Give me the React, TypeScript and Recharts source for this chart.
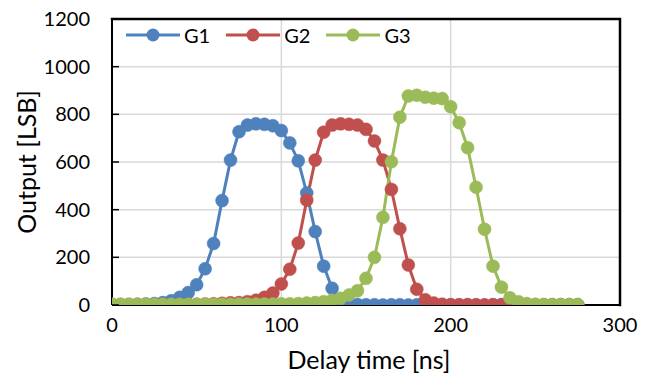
import React from "react";
import {
  LineChart,
  Line,
  XAxis,
  YAxis,
  CartesianGrid,
  Legend,
} from "recharts";

const FONT = "Lato, 'Open Sans', sans-serif";

// Delay time [ns]
const T = [
  0, 5, 10, 15, 20, 25, 30, 35, 40, 45, 50, 55, 60, 65, 70, 75, 80, 85, 90, 95,
  100, 105, 110, 115, 120, 125, 130, 135, 140, 145, 150, 155, 160, 165, 170,
  175, 180, 185, 190, 195, 200, 205, 210, 215, 220, 225, 230, 235, 240, 245,
  250, 255, 260, 265, 270, 275,
];

const G1 = [
  2, 2, 2, 3, 4, 6, 10, 18, 32, 52, 85, 152, 258, 438, 608, 727, 755, 760, 758,
  752, 732, 680, 605, 470, 308, 163, 70, 20, 5, 2, 1, 1, 0, 1, 1, 0, 1, 1, 0, 1,
  1, 0, 1, 1, 0, 1, 1, 0, 1, 1, 0, 1, 1, 0, 1, 1,
];

const G2 = [
  1, 1, 1, 1, 1, 2, 2, 2, 3, 3, 3, 4, 5, 7, 9, 10, 14, 20, 32, 50, 88, 150, 260,
  440, 608, 725, 755, 760, 758, 755, 737, 688, 608, 485, 320, 168, 66, 22, 8, 3,
  1, 1, 1, 0, 0, 1, 1, 0, 0, 1, 1, 0, 0, 1, 1, 0,
];

const G3 = [
  3, 3, 3, 3, 3, 3, 3, 3, 3, 3, 3, 3, 3, 3, 3, 4, 4, 4, 4, 4, 5, 5, 6, 8, 10, 14,
  20, 28, 42, 60, 112, 200, 368, 601, 788, 877, 880, 872, 868, 866, 832, 765,
  660, 494, 318, 163, 75, 30, 14, 6, 3, 2, 2, 2, 2, 2,
];

const X_TICKS = [0, 100, 200, 300];
const Y_TICKS = [0, 200, 400, 600, 800, 1000, 1200];
const X_MAX = 300;
const Y_MAX = 1200;

const SERIES = [
  { key: "g1", name: "G1", color: "#4F81BD" },
  { key: "g2", name: "G2", color: "#C0504D" },
  { key: "g3", name: "G3", color: "#9BBB59" },
];

const data = T.map((t, i) => ({ t, g1: G1[i], g2: G2[i], g3: G3[i] }));

// layout
const W = 653;
const H = 381;
const MARGIN = { top: 19, right: 33, left: 0, bottom: 0 };
const Y_AXIS_W = 112;
const X_AXIS_H = 76;
const PLOT_L = MARGIN.left + Y_AXIS_W;
const PLOT_T = MARGIN.top;
const PLOT_R = W - MARGIN.right;
const PLOT_B = H - MARGIN.bottom - X_AXIS_H;

const YTick = (props: any) => {
  const { x, y, payload } = props;
  return (
    <g>
      <text
        x={x}
        y={y}
        dy="0.355em"
        textAnchor="end"
        fill="#000"
        fontSize={20}
        fontFamily={FONT}
      >
        {payload.value}
      </text>
      <line x1={x + 22} x2={x + 29} y1={y} y2={y} stroke="#000" strokeWidth={1.5} />
    </g>
  );
};

const XTick = (props: any) => {
  const { x, y, payload } = props;
  return (
    <text
      x={x}
      y={y}
      dy="0.71em"
      textAnchor="middle"
      fill="#000"
      fontSize={20}
      fontFamily={FONT}
    >
      {payload.value}
    </text>
  );
};

const renderLegend = (props: any) => {
  const payload = props.payload || [];
  return (
    <div style={{ display: "flex", flexDirection: "row", alignItems: "center" }}>
      {payload.map((p: any, i: number) => (
        <div
          key={i}
          style={{
            display: "flex",
            alignItems: "center",
            height: 20,
            marginRight: 16,
          }}
        >
          <svg width={54} height={16} style={{ display: "block" }}>
            <line x1={0} x2={54} y1={8} y2={8} stroke={p.color} strokeWidth={3} />
            <circle cx={27} cy={8} r={6.5} fill={p.color} />
          </svg>
          <span
            style={{
              marginLeft: 4,
              fontSize: 20,
              lineHeight: "20px",
              fontFamily: FONT,
              color: "#000",
            }}
          >
            {p.value}
          </span>
        </div>
      ))}
    </div>
  );
};

const YTitle = (props: any) => {
  const vb = props.viewBox || { x: 0, y: 0, width: 0, height: 0 };
  const cx = vb.x + 27;
  const cy = vb.y + vb.height / 2;
  return (
    <text
      x={cx}
      y={cy}
      dy="0.35em"
      textAnchor="middle"
      transform={`rotate(-90, ${cx}, ${cy})`}
      fill="#000"
      fontSize={25}
      fontFamily={FONT}
    >
      Output [LSB]
    </text>
  );
};

const XTitle = (props: any) => {
  const vb = props.viewBox || { x: 0, y: 0, width: 0, height: 0 };
  const cx = vb.x + vb.width / 2 + 3;
  const cy = vb.y + 55;
  return (
    <text
      x={cx}
      y={cy}
      dy="0.35em"
      textAnchor="middle"
      fill="#000"
      fontSize={25}
      fontFamily={FONT}
    >
      Delay time [ns]
    </text>
  );
};

export default function App() {
  return (
    <div style={{ width: W, height: H, position: "relative" }}>
      <style>{`body{margin:0;}`}</style>
      <LineChart
        width={W}
        height={H}
        data={data}
        margin={MARGIN}
        style={{ fontFamily: FONT }}
      >
        <CartesianGrid stroke="#D9D9D9" strokeWidth={1.5} />
        <XAxis
          type="number"
          dataKey="t"
          domain={[0, X_MAX]}
          ticks={X_TICKS}
          allowDataOverflow
          height={X_AXIS_H}
          axisLine={{ stroke: "#000", strokeWidth: 2 }}
          tickLine={false}
          tickSize={0}
          tickMargin={13}
          tick={<XTick />}
          label={{ content: <XTitle /> }}
        />
        <YAxis
          type="number"
          domain={[0, Y_MAX]}
          ticks={Y_TICKS}
          allowDataOverflow
          width={Y_AXIS_W}
          axisLine={{ stroke: "#000", strokeWidth: 2 }}
          tickLine={false}
          tickSize={0}
          tickMargin={22}
          tick={<YTick />}
          label={{ content: <YTitle /> }}
        />
        {SERIES.map((s) => (
          <Line
            key={s.key}
            type="linear"
            dataKey={s.key}
            name={s.name}
            stroke={s.color}
            strokeWidth={3}
            dot={{ r: 6.5, fill: s.color, stroke: s.color, strokeWidth: 0.5 }}
            activeDot={false}
            isAnimationActive={false}
          />
        ))}
        <Legend
          layout="horizontal"
          verticalAlign="middle"
          align="center"
          content={renderLegend}
          wrapperStyle={{ top: 25, left: 126, width: 400 }}
        />
      </LineChart>
      <svg
        width={W}
        height={H}
        style={{
          position: "absolute",
          left: 0,
          top: 0,
          pointerEvents: "none",
          zIndex: 10,
        }}
      >
        <path
          d={`M${PLOT_L},${PLOT_T} L${PLOT_R},${PLOT_T} L${PLOT_R},${PLOT_B}`}
          fill="none"
          stroke="#000000"
          strokeWidth={2.5}
          strokeLinecap="square"
        />
      </svg>
    </div>
  );
}
